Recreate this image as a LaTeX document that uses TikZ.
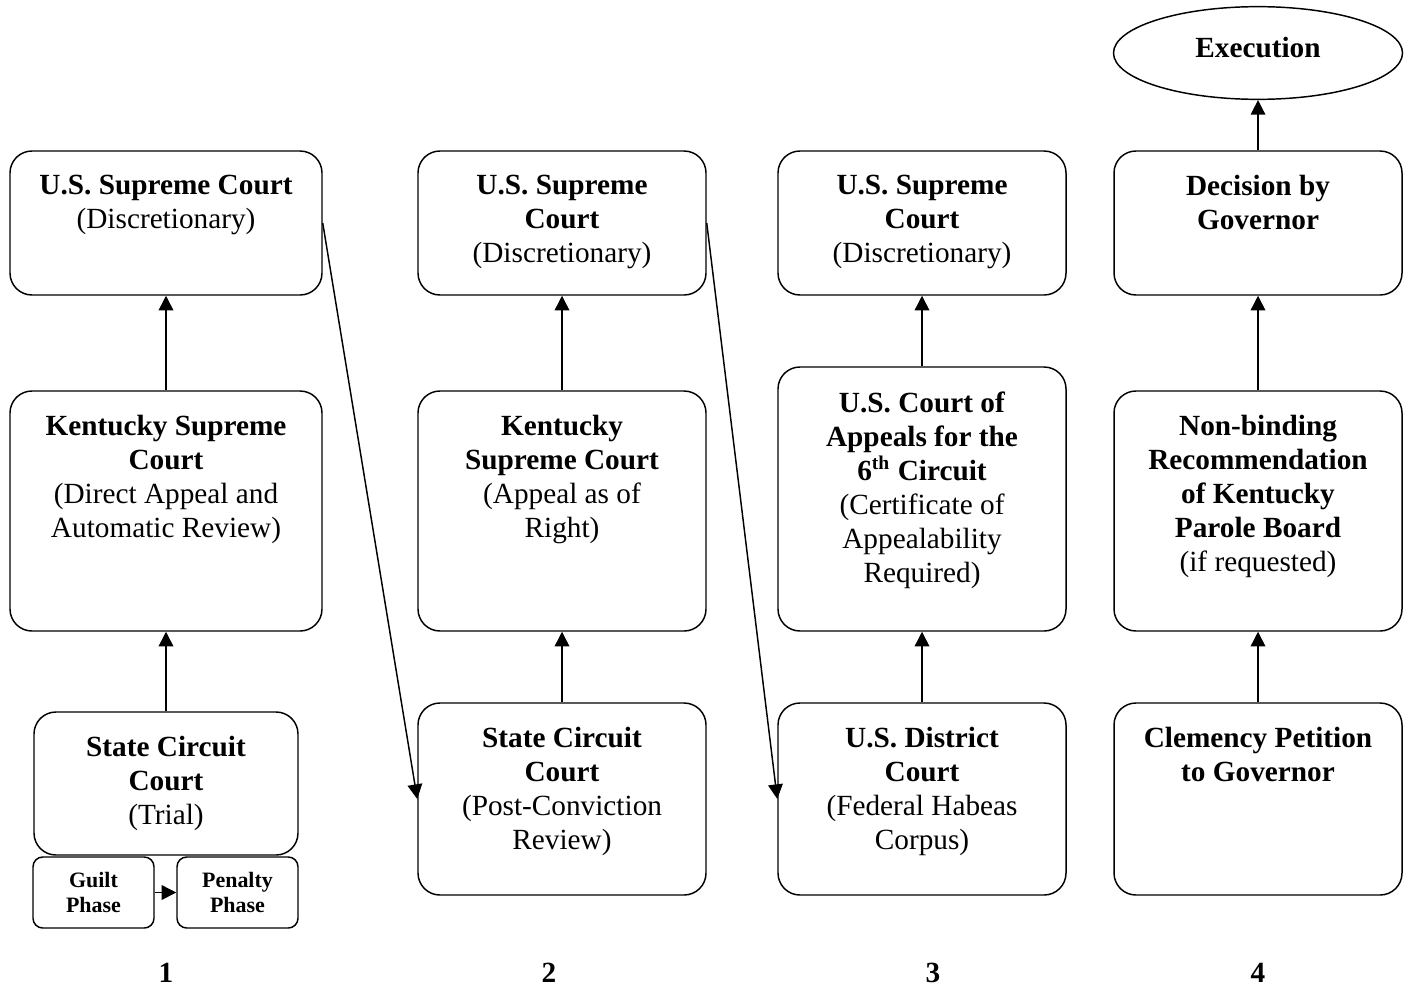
\documentclass[tikz,border=0pt]{standalone}
\usepackage{fontspec}
\setmainfont{Liberation Serif}
\usepackage{tikz}
\usetikzlibrary{arrows.meta,fit,shapes.geometric}

\tikzset{
	box/.style={draw, rounded corners=9pt, line width=0.6pt, inner sep=0pt},
	phasebox/.style={box, rounded corners=4pt},
	txt/.style={anchor=north, yshift=-10pt, inner sep=0pt, align=center,
		font=\fontsize{12}{13.94}\selectfont},
	small/.style={inner sep=0pt, align=center,
		font=\fontsize{9}{10.3}\selectfont\bfseries},
}

\begin{document}
\begin{tikzpicture}[x=0.41pt, y=-0.41pt, line width=0.6pt,
	>={Triangle[width=6pt,length=6pt]}]

	\useasboundingbox (0,0) rectangle (1411,988);

	% ---- column 1

	\node[box, fit={(10,151) (322,295)}] (us1) {};
	\node[box, fit={(10,391) (322,631)}] (ky1) {};
	\node[box, fit={(34,712) (298,855)}] (sc1) {};
	\node[phasebox, fit={(33,857) (154,928)}] (guilt) {};
	\node[phasebox, fit={(177,857) (298,928)}] (penalty) {};

	\node[txt] at (us1.north) {\textbf{U.S. Supreme Court}\\(Discretionary)};
	\node[txt] at (ky1.north) {\textbf{Kentucky Supreme}\\\textbf{Court}\\(Direct Appeal and\\Automatic Review)};
	\node[txt] at (sc1.north) {\textbf{State Circuit}\\\textbf{Court}\\(Trial)};
	\node[small] at (guilt) {Guilt\\Phase};
	\node[small] at (penalty) {Penalty\\Phase};

	% ---- column 2

	\node[box, fit={(418,151) (706,295)}] (us2) {};
	\node[box, fit={(418,391) (706,631)}] (ky2) {};
	\node[box, fit={(418,703) (706,895)}] (sc2) {};

	\node[txt] at (us2.north) {\textbf{U.S. Supreme}\\\textbf{Court}\\(Discretionary)};
	\node[txt] at (ky2.north) {\textbf{Kentucky}\\\textbf{Supreme Court}\\(Appeal as of\\Right)};
	\node[txt] at (sc2.north) {\textbf{State Circuit}\\\textbf{Court}\\(Post-Conviction\\Review)};

	% ---- column 3

	\node[box, fit={(778,151) (1066,295)}] (us3) {};
	\node[box, fit={(778,367) (1066,631)}] (ca3) {};
	\node[box, fit={(778,703) (1066,895)}] (dc3) {};

	\node[txt] at (us3.north) {\textbf{U.S. Supreme}\\\textbf{Court}\\(Discretionary)};
	\node[txt] at (ca3.north) {\textbf{U.S. Court of}\\\textbf{Appeals for the}\\\textbf{6\textsuperscript{th} Circuit}\\(Certificate of\\Appealability\\Required)};
	\node[txt] at (dc3.north) {\textbf{U.S. District}\\\textbf{Court}\\(Federal Habeas\\Corpus)};

	% ---- column 4

	\node[ellipse, draw, inner sep=0pt, minimum width=118.5pt, minimum height=38pt,
		text depth=5pt, font=\fontsize{12}{13.94}\selectfont\bfseries] (exec) at (1258,53) {Execution};
	\node[box, fit={(1114,151) (1402,295)}] (dec4) {};
	\node[box, fit={(1114,391) (1402,631)}] (nb4) {};
	\node[box, fit={(1114,703) (1402,895)}] (cl4) {};

	\node[txt] at (dec4.north) {\textbf{Decision by}\\\textbf{Governor}};
	\node[txt] at (nb4.north) {\textbf{Non-binding}\\\textbf{Recommendation}\\\textbf{of Kentucky}\\\textbf{Parole Board}\\(if requested)};
	\node[txt] at (cl4.north) {\textbf{Clemency Petition}\\\textbf{to Governor}};

	% ---- arrows

	\draw[->] (sc1.north) -- (ky1.south);
	\draw[->] (ky1.north) -- (us1.south);
	\draw[->] (guilt.east) -- (penalty.west);

	\draw[->] (sc2.north) -- (ky2.south);
	\draw[->] (ky2.north) -- (us2.south);

	\draw[->] (dc3.north) -- (ca3.south);
	\draw[->] (ca3.north) -- (us3.south);

	\draw[->] (cl4.north) -- (nb4.south);
	\draw[->] (nb4.north) -- (dec4.south);
	\draw[->] (dec4.north) -- (exec.south);

	\draw[->] (us1.east) -- (sc2.west);
	\draw[->] (us2.east) -- (dc3.west);

	% ---- column numbers

	\node[font=\fontsize{12}{13.94}\selectfont\bfseries] (n1) at (166,973) {1};
	\node[font=\fontsize{12}{13.94}\selectfont\bfseries] (n2) at (549,973) {2};
	\node[font=\fontsize{12}{13.94}\selectfont\bfseries] (n3) at (933,973) {3};
	\node[font=\fontsize{12}{13.94}\selectfont\bfseries] (n4) at (1258,973) {4};

\end{tikzpicture}
\end{document}
